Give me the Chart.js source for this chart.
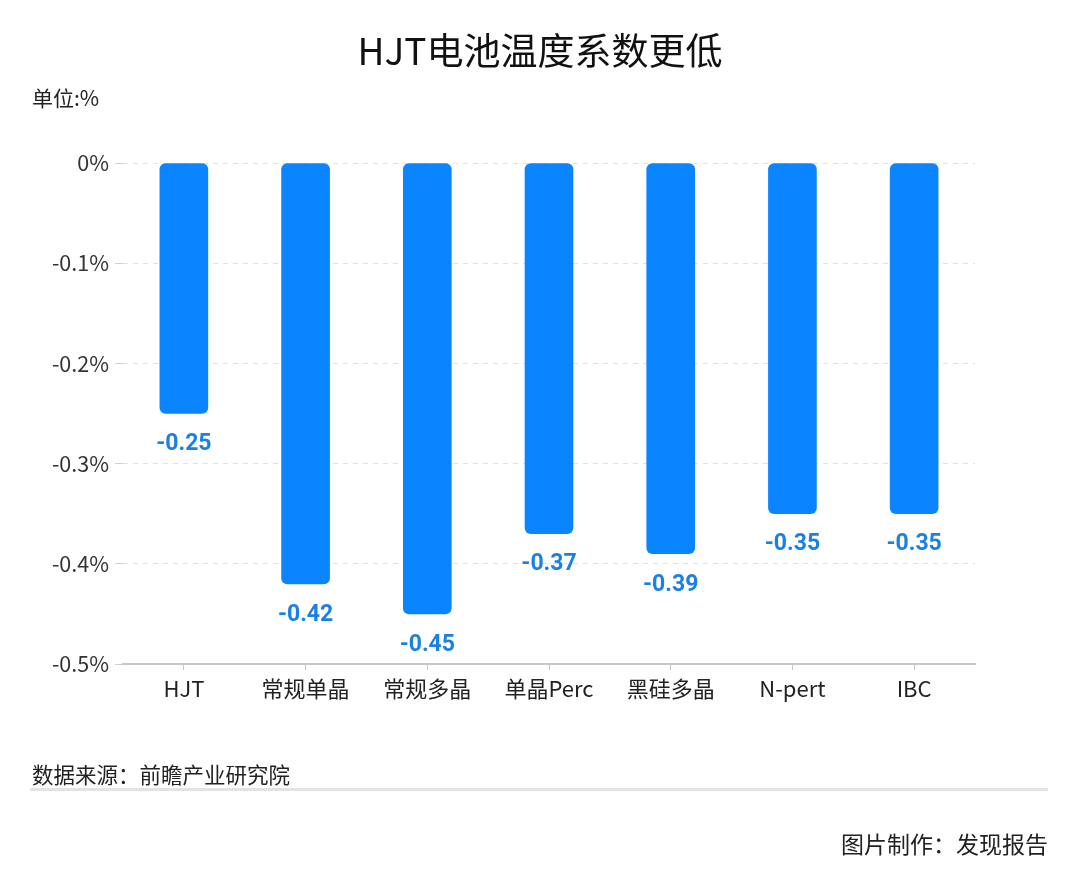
<!DOCTYPE html>
<html>
<head>
<meta charset="utf-8">
<script src="https://cdn.jsdelivr.net/npm/chart.js@4"></script>
<style>
  body { margin: 0; background: #fff; font-family: "Noto Sans CJK SC", "Noto Sans", sans-serif; }
  #wrap { position: absolute; left: 0; top: 0; width: 1080px; height: 889px; }
  .txt { position: absolute; white-space: nowrap; color: #222; }
  #title { left: 0; width: 1080px; top: 22px; text-align: center; font-size: 37px; color: #111; }
  #unit { left: 32px; top: 82px; font-size: 21px; }
  #source { left: 32px; top: 758px; font-size: 21.5px; }
  #rule { position: absolute; left: 30px; top: 788px; width: 1018px; height: 3px; background: #e3e3e3; }
  #credit { right: 32px; top: 826px; font-size: 23px; }
</style>
</head>
<body>
<div id="wrap"><canvas id="c"></canvas></div>
<div class="txt" id="title">HJT电池温度系数更低</div>
<div class="txt" id="unit">单位:%</div>
<div class="txt" id="source">数据来源：前瞻产业研究院</div>
<div id="rule"></div>
<div class="txt" id="credit">图片制作：发现报告</div>
<script>
var categories = ["HJT", "常规单晶", "常规多晶", "单晶Perc", "黑硅多晶", "N-pert", "IBC"];
var coefficients = [-0.25, -0.42, -0.45, -0.37, -0.39, -0.35, -0.35];

// value labels under each bar end
var valueLabels = {
  id: 'valueLabels',
  afterDatasetsDraw: function(chart) {
    var ctx = chart.ctx;
    var meta = chart.getDatasetMeta(0);
    ctx.save();
    ctx.fillStyle = '#1a80e6';
    ctx.font = 'bold 23px Roboto, sans-serif';
    ctx.textAlign = 'center';
    ctx.textBaseline = 'middle';
    meta.data.forEach(function(bar, i) {
      ctx.fillText(coefficients[i].toFixed(2), bar.x, bar.y + 31);
    });
    ctx.restore();
  }
};

var chart = new Chart(document.getElementById('c'), {
  type: 'bar',
  data: {
    labels: categories,
    datasets: [{
      data: coefficients,
      backgroundColor: '#0a84ff',
      borderRadius: 6,
      borderSkipped: false,
      barThickness: 48
    }]
  },
  options: {
    responsive: true,
    maintainAspectRatio: false,
    animation: false,
    layout: { padding: { top: 163, right: 105, bottom: 175, left: 0 } },
    plugins: { legend: { display: false }, tooltip: { enabled: false } },
    scales: {
      x: {
        afterFit: function(s) { s.height = 50; },
        grid: { offset: false, drawOnChartArea: false, drawTicks: true, tickLength: 6, color: '#c8c8c8' },
        border: { display: true, color: '#c8c8c8', width: 2 },
        ticks: { padding: 5, color: '#222', font: { family: 'Noto Sans CJK SC', size: 22 } }
      },
      y: {
        min: -0.5,
        max: 0,
        afterFit: function(s) { s.width = 123; },
        grid: { color: '#e2e2e2', tickLength: 8, tickColor: '#d0d0d0' },
        border: { display: false, dash: [5, 5] },
        ticks: {
          stepSize: 0.1,
          padding: 6,
          color: '#333',
          font: { family: 'Noto Sans CJK SC', size: 21.5 },
          callback: function(v) { return Math.abs(v) < 1e-9 ? '0%' : v.toFixed(1) + '%'; }
        }
      }
    }
  },
  plugins: [valueLabels]
});
</script>
</body>
</html>
